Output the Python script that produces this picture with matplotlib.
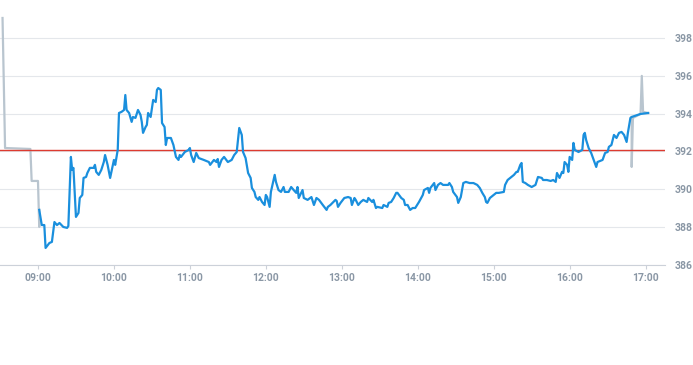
import matplotlib
matplotlib.use("Agg")
import matplotlib.pyplot as plt

# intraday quotes
pre_times = ["08:32", "08:34", "08:54", "08:55", "09:00", "09:01", "09:01"]
pre_prices = [399.05, 392.18, 392.13, 390.44, 390.44, 388.01, 388.91]

session_times = [
    "09:01", "09:03", "09:05", "09:06", "09:09", "09:11", "09:13", "09:15", "09:17", "09:20",
    "09:23", "09:24", "09:26", "09:27", "09:28", "09:30", "09:32", "09:33", "09:35", "09:36",
    "09:38", "09:39", "09:41", "09:44", "09:45", "09:46", "09:48", "09:50", "09:52", "09:53",
    "09:55", "09:57", "10:00", "10:01", "10:03", "10:04", "10:06", "10:08", "10:09", "10:10",
    "10:12", "10:14", "10:15", "10:17", "10:19", "10:21", "10:22", "10:23", "10:25", "10:26",
    "10:27", "10:29", "10:31", "10:33", "10:34", "10:35", "10:37", "10:38", "10:40", "10:41",
    "10:42", "10:45", "10:47", "10:49", "10:51", "10:52", "10:53", "10:56", "10:59", "11:00",
    "11:01", "11:03", "11:05", "11:07", "11:11", "11:15", "11:16", "11:19", "11:21", "11:22",
    "11:23", "11:25", "11:27", "11:30", "11:33", "11:35", "11:37", "11:39", "11:41", "11:42",
    "11:44", "11:46", "11:48", "11:49", "11:51", "11:52", "11:54", "11:55", "11:57", "11:59",
    "12:00", "12:01", "12:03", "12:04", "12:07", "12:08", "12:10", "12:12", "12:14", "12:15",
    "12:18", "12:20", "12:22", "12:24", "12:25", "12:26", "12:29", "12:30", "12:33", "12:36",
    "12:38", "12:40", "12:42", "12:45", "12:48", "12:49", "12:51", "12:55", "12:56", "12:57",
    "12:59", "13:02", "13:05", "13:07", "13:08", "13:10", "13:11", "13:13", "13:15", "13:17",
    "13:20", "13:21", "13:24", "13:25", "13:27", "13:28", "13:32", "13:33", "13:36", "13:37",
    "13:39", "13:41", "13:43", "13:44", "13:47", "13:49", "13:50", "13:52", "13:54", "13:56",
    "13:58", "14:01", "14:04", "14:05", "14:08", "14:09", "14:10", "14:13", "14:14", "14:16",
    "14:18", "14:20", "14:24", "14:25", "14:27", "14:28", "14:31", "14:32", "14:34", "14:36",
    "14:38", "14:41", "14:44", "14:47", "14:49", "14:51", "14:53", "14:54", "14:55", "14:57",
    "15:00", "15:02", "15:04", "15:08", "15:09", "15:11", "15:13", "15:16", "15:18", "15:19",
    "15:21", "15:22", "15:23", "15:25", "15:27", "15:30", "15:33", "15:35", "15:38", "15:39",
    "15:42", "15:45", "15:47", "15:49", "15:50", "15:52", "15:54", "15:55", "15:56", "15:58",
    "15:59", "16:00", "16:02", "16:03", "16:04", "16:07", "16:10", "16:11", "16:12", "16:13",
    "16:15", "16:17", "16:19", "16:21", "16:22", "16:26", "16:28", "16:30", "16:31", "16:33",
    "16:35", "16:37", "16:39", "16:41", "16:43", "16:45", "16:46", "16:48", "16:49", "16:56",
    "17:02",
]
session_prices = [
    388.91, 388.11, 388.11, 386.90, 387.16, 387.22, 388.27, 388.11, 388.22, 388.01,
    387.96, 388.06, 391.71, 391.02, 391.13, 388.54, 388.75, 389.54, 389.70, 390.60,
    390.65, 390.86, 391.13, 391.13, 391.29, 390.92, 390.76, 391.02, 391.44, 391.81,
    391.29, 390.60, 391.55, 391.29, 392.08, 394.03, 394.09, 394.19, 394.98, 394.19,
    394.03, 393.56, 393.82, 393.77, 394.19, 393.93, 393.56, 392.98, 393.29, 393.40,
    394.03, 393.82, 394.72, 394.61, 395.25, 395.35, 395.25, 393.50, 393.29, 392.34,
    392.71, 392.71, 392.34, 391.71, 391.55, 391.81, 391.71, 391.97, 392.08, 392.18,
    391.81, 391.44, 391.92, 391.65, 391.55, 391.44, 391.29, 391.55, 391.44, 391.60,
    391.18, 391.55, 391.71, 391.44, 391.55, 391.81, 391.97, 393.24, 392.87, 391.97,
    391.65, 390.86, 390.60, 390.07, 389.86, 389.59, 389.44, 389.59, 389.33, 389.17,
    389.70, 389.59, 389.07, 389.86, 390.76, 390.39, 389.96, 389.86, 390.12, 389.86,
    389.86, 390.12, 389.96, 389.81, 390.12, 389.54, 389.96, 389.54, 389.44, 389.59,
    389.17, 389.54, 389.44, 389.17, 388.91, 389.07, 389.17, 389.44, 389.38, 389.07,
    389.28, 389.54, 389.59, 389.54, 389.17, 389.54, 389.44, 389.17, 389.33, 389.44,
    389.33, 389.54, 389.33, 389.44, 389.01, 389.07, 389.01, 389.17, 389.07, 389.28,
    389.33, 389.54, 389.81, 389.81, 389.54, 389.44, 389.17, 389.17, 388.91, 389.01,
    389.01, 389.33, 389.70, 389.96, 390.07, 389.81, 390.07, 390.33, 389.96, 390.23,
    390.33, 390.23, 390.23, 390.33, 390.12, 389.86, 389.59, 389.28, 389.59, 390.33,
    390.39, 390.33, 390.33, 390.23, 390.07, 389.81, 389.59, 389.33, 389.28, 389.54,
    389.70, 389.81, 389.81, 389.86, 390.23, 390.49, 390.60, 390.76, 390.92, 390.92,
    391.29, 391.39, 390.39, 390.33, 390.23, 390.12, 390.23, 390.65, 390.60, 390.49,
    390.49, 390.44, 390.49, 390.39, 390.86, 390.60, 390.92, 390.86, 391.44, 391.29,
    390.92, 391.71, 391.55, 392.45, 392.08, 391.97, 392.08, 392.87, 392.98, 392.61,
    392.18, 391.92, 391.55, 391.18, 391.44, 391.55, 391.92, 391.97, 392.24, 392.34,
    392.87, 392.71, 392.98, 393.03, 392.87, 392.50, 392.98, 393.77, 393.82, 393.98,
    394.03,
]

post_times = ["16:49", "16:49", "16:50", "16:56", "16:57", "16:58", "17:02"]
post_prices = [393.82, 391.18, 393.77, 393.98, 395.99, 394.09, 394.03]

prev_close = 392.05
y_ticks = [386, 388, 390, 392, 394, 396, 398]
x_ticks = [9, 10, 11, 12, 13, 14, 15, 16, 17]


def to_hours(times):
    return [int(t[:2]) + int(t[3:]) / 60 for t in times]


fig = plt.figure(figsize=(6.93, 3.65), dpi=100)
ax = fig.add_axes([0.0, 0.274, 0.959, 0.726])

label_color = "#8a97a5"
font = {"family": ["Roboto", "DejaVu Sans"], "weight": "bold", "size": 7.5}

ax.axhline(prev_close, color="#dd3b30", linewidth=1.0, zorder=3)
ax.plot(to_hours(pre_times), pre_prices, color="#b9c5cf", linewidth=1.6, zorder=2)
ax.plot(to_hours(post_times), post_prices, color="#b9c5cf", linewidth=1.6, zorder=2)
ax.plot(to_hours(session_times), session_prices, color="#1a8fdd", linewidth=1.6, zorder=4)

ax.set_xlim(8.5, 17.25)
ax.set_ylim(386, 400)

ax.set_yticks(y_ticks)
ax.set_yticklabels([str(v) for v in y_ticks], color=label_color, fontdict=font)
ax.yaxis.tick_right()
ax.tick_params(axis="y", length=0, pad=7)

ax.set_xticks(x_ticks)
ax.set_xticklabels([f"{h:02d}:00" for h in x_ticks], color=label_color, fontdict=font)
ax.tick_params(axis="x", length=3, width=0.8, color="#ccd1d9", pad=3)

ax.grid(axis="y", color="#e4e7eb", linewidth=0.8)
ax.set_axisbelow(True)
for side in ["top", "left", "right"]:
    ax.spines[side].set_visible(False)
ax.spines["bottom"].set_color("#ccd1d9")
ax.spines["bottom"].set_linewidth(0.8)

plt.savefig("out.png", dpi=100)
